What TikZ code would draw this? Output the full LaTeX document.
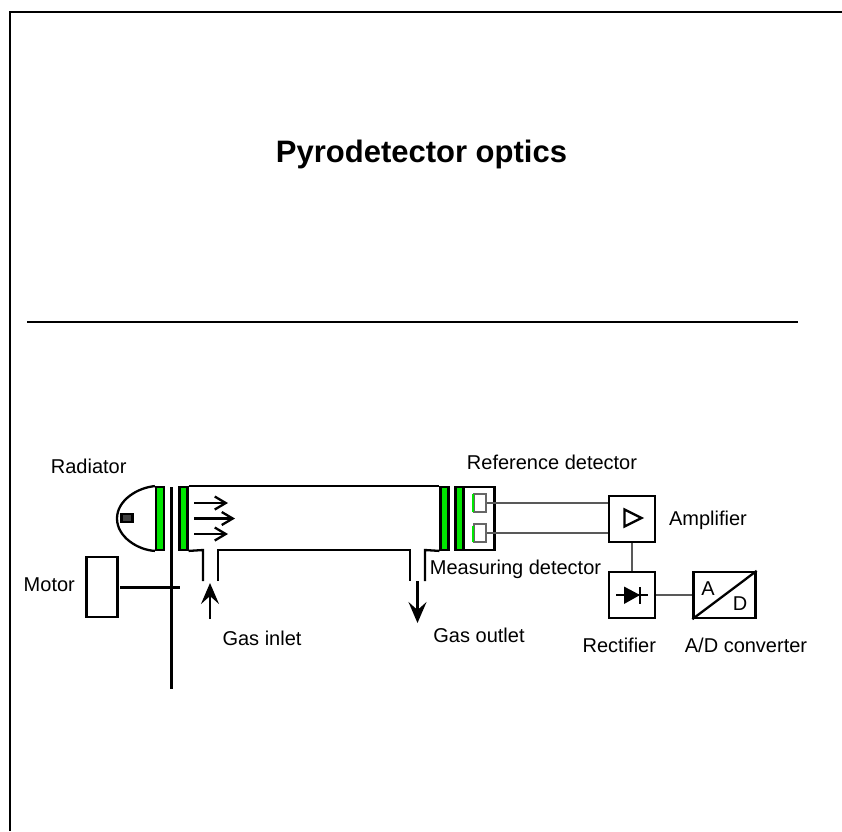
\documentclass[tikz,border=0pt]{standalone}
\usepackage{fontspec}
\setmainfont{Liberation Sans}
\usepackage{xcolor}
\usetikzlibrary{arrows.meta}
\definecolor{wingreen}{RGB}{0,230,0}
\tikzset{
  lbl/.style = {inner sep=0pt, anchor=base, font=\fontsize{20}{22}\selectfont},
  ttl/.style = {inner sep=0pt, anchor=base, font=\fontsize{31}{34}\selectfont\bfseries},
  wall/.style = {line width=2.3pt, black},
  thin_line/.style = {line width=1.2pt, black!65},
  nd_box/.style = {draw=black, line width=2.3pt, fill=white, inner sep=0pt, rectangle},% block
  nd_win/.style = {nd_box, fill=wingreen, minimum width=8pt, minimum height=62.5pt},% window
  nd_det/.style = {draw=black!60, line width=1.2pt, inner sep=0pt, minimum width=12pt, minimum height=18pt},% detector
  flow/.style = {line width=2.3pt, -{Straight Barb[length=11pt,width=13pt,line width=2.3pt]}},
  gas/.style = {line width=2.3pt, -{Stealth[length=21pt,width=18pt,inset=8pt]}}
}
\begin{document}
\begin{tikzpicture}[x=1pt,y=-1pt]
\useasboundingbox (0,0) rectangle (842,831);
\draw [wall] (10,831) -- (10,12) -- (842,12);
\node [ttl] (title) at (421.5,162.7) {Pyrodetector optics};
\draw [wall] (27,322) -- (798,322);
% radiator
\node [nd_win] (win_a) at (160,518.5) {};
\draw [wall] (win_a.north west) .. controls (138,487.5) and (117,500) .. (117,518.5) .. controls (117,537) and (138,550) .. (win_a.south west);
\node [nd_box, fill=black!75, minimum width=11pt, minimum height=8pt] (lamp) at (127,518) {};
% chopper and motor
\coordinate (chop_t) at (171.5,487);
\coordinate (chop_b) at (171.5,689);
\draw [wall] (chop_t) -- (chop_b);
\node [nd_box, minimum width=31pt, minimum height=60pt] (motor) at (102,587) {};
\coordinate (shaft) at (180,587.5);
\draw [wall] (120,587.5) -- (shaft);
% cell
\node [nd_win] (win_b) at (183.5,518.5) {};
\node [nd_win] (win_c) at (444.5,518.5) {};
\draw [wall] (win_b.north east) -- (win_c.north west);
\draw [wall] (win_b.south east) -- (203,550) -- (203,581);
\draw [wall] (218,581) -- (218,550) -- (410,550) -- (410,581);
\draw [wall] (425,581) -- (425,550) -- (win_c.south west);
\draw [flow] (194,503) -- (228,503);
\draw [flow] (194,518.5) -- (235,518.5);
\draw [flow] (194,534) -- (228,534);
\draw [gas] (210,619) -- (210,583);
\draw [gas] (417.5,581) -- (417.5,623);
% detectors
\node [nd_win] (win_d) at (459.5,518.5) {};
\node [nd_box, minimum width=31pt, minimum height=62.5pt] (det_box) at (479,518.5) {};
\node [nd_det] (det_r) at (480,503) {};
\node [nd_det] (det_m) at (480,533) {};
\fill [wingreen] (471.5,494) rectangle (474,512);
\fill [wingreen] (471.5,526) rectangle (474,542);
% electronics
\node [nd_box, minimum width=46pt, minimum height=46pt] (amp) at (632,519) {};
\node [nd_box, minimum width=46pt, minimum height=46pt] (rect) at (632,595) {};
\node [nd_box, minimum width=62pt, minimum height=46pt] (adc) at (724.5,595) {};
\draw [wall] (624.5,509.5) -- (641.5,518) -- (624.5,526.5) -- cycle;
\draw [line width=1.5pt] (616,595) -- (648,595);
\fill (624,586.5) -- (640,595) -- (624,604) -- cycle;
\draw [wall] (640,587) -- (640,604);
\draw [wall] (adc.south west) -- (adc.north east);
\node [lbl] (a_txt) at (708,595) {A};
\node [lbl] (d_txt) at (740,610) {D};
\draw [thin_line] (det_r.east) -- (det_r.east -| amp.west);
\draw [thin_line] (det_m.east) -- (det_m.east -| amp.west);
\draw [thin_line] (amp) -- (rect);
\draw [thin_line] (rect) -- (adc);
% labels
\node [lbl] (l_rad) at (88.7,473.5) {Radiator};
\node [lbl] (l_ref) at (552,469.5) {Reference detector};
\node [lbl] (l_mea) at (515.5,574) {Measuring detector};
\node [lbl] (l_amp) at (708,525.7) {Amplifier};
\node [lbl] (l_mot) at (49.3,591) {Motor};
\node [lbl] (l_in) at (262,645) {Gas inlet};
\node [lbl] (l_out) at (479,642) {Gas outlet};
\node [lbl] (l_rec) at (619.3,652.7) {Rectifier};
\node [lbl] (l_adc) at (746,652.7) {A/D converter};
\end{tikzpicture}
\end{document}
